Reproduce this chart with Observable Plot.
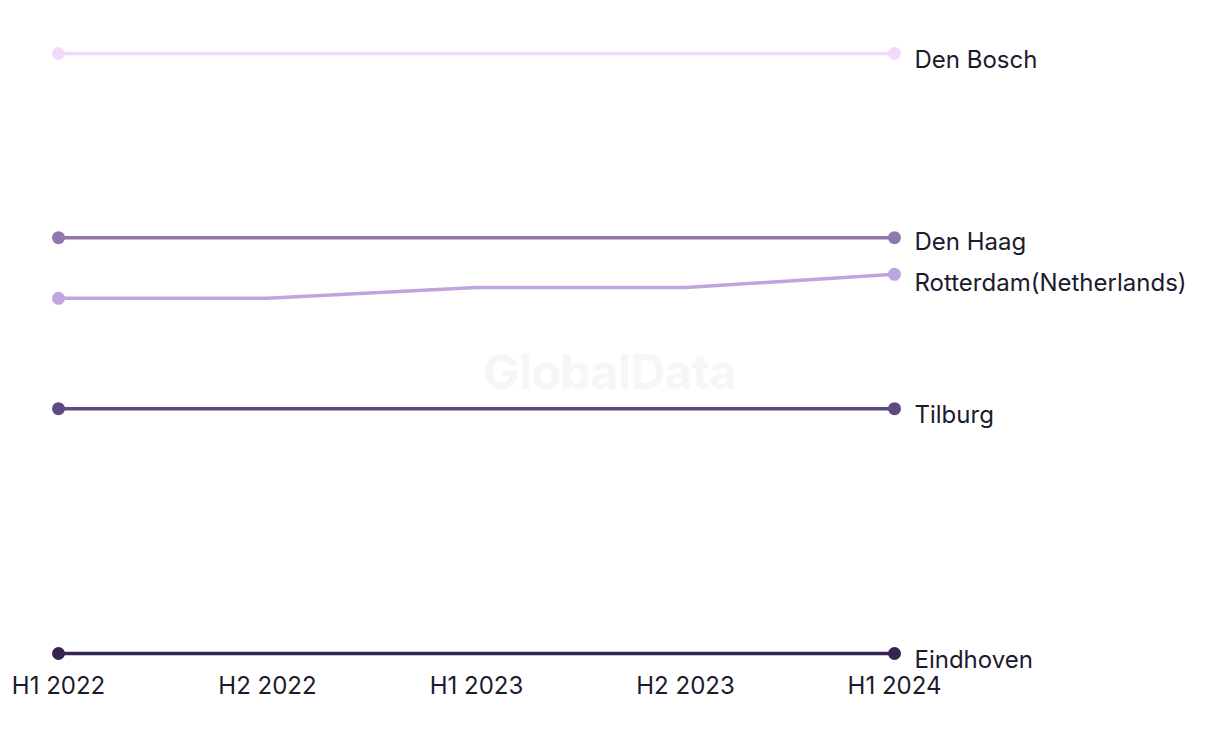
<!DOCTYPE html>
<html>
<head>
<meta charset="utf-8">
<script src="https://cdn.jsdelivr.net/npm/d3@7"></script>
<script src="https://cdn.jsdelivr.net/npm/@observablehq/plot@0.6"></script>
<style>
  html, body { margin: 0; padding: 0; background: #fff; }
  #wrap { position: relative; width: 1220px; height: 744px; font-family: Inter, "Noto Sans", sans-serif; }
  #wm { position: absolute; left: 0; width: 1220px; top: 342px; text-align: center; font-weight: 700; font-size: 48px; color: #f6f6f6; letter-spacing: -0.5px; pointer-events: none; }
  #chart { position: absolute; left: 0; top: 0; }
</style>
</head>
<body>
<div id="wrap">
  <div id="wm">GlobalData</div>
  <div id="chart"></div>
</div>
<script>
const periods = ["H1 2022", "H2 2022", "H1 2023", "H2 2023", "H1 2024"];
const cities = ["Den Bosch", "Den Haag", "Rotterdam(Netherlands)", "Tilburg", "Eindhoven"];
const denBosch = [100, 100, 100, 100, 100];
const denHaag = [69.3, 69.3, 69.3, 69.3, 69.3];
const rotterdam = [59.2, 59.2, 61.0, 61.0, 63.2];
const tilburg = [40.8, 40.8, 40.8, 40.8, 40.8];
const eindhoven = [0, 0, 0, 0, 0];
const colors = ["#f1d9fc", "#9277ae", "#bfa4e0", "#5e4a7f", "#35244f"];

const seriesValues = [denBosch, denHaag, rotterdam, tilburg, eindhoven];
const rows = [];
cities.forEach((c, i) => {
  periods.forEach((p, j) => rows.push({city: c, period: p, value: seriesValues[i][j], idx: j}));
});
const ends = rows.filter(d => d.idx === 0 || d.idx === periods.length - 1);
const last = rows.filter(d => d.idx === periods.length - 1);
const lastUp = last.filter(d => d.city === "Den Haag");
const lastDown = last.filter(d => d.city === "Rotterdam(Netherlands)");
const lastRest = last.filter(d => d.city !== "Den Haag" && d.city !== "Rotterdam(Netherlands)");

const txt = {x: "period", y: "value", text: "city", textAnchor: "start", dx: 20, fontSize: 24, fill: "#1b1b2d"};

const chart = Plot.plot({
  width: 1220,
  height: 744,
  marginLeft: 57,
  marginRight: 325,
  marginTop: 53,
  marginBottom: 91,
  style: {fontFamily: "Inter, 'Noto Sans', sans-serif", fontSize: "24px", color: "#1b1b2d", background: "transparent"},
  x: {type: "point", domain: periods, padding: 0, label: null},
  y: {domain: [0, 100], axis: null},
  color: {domain: cities, range: colors},
  marks: [
    Plot.axisX({tickSize: 0, tickPadding: 23, fontSize: 24, fill: "#1b1b2d", label: null}),
    Plot.line(rows, {x: "period", y: "value", z: "city", stroke: "city", strokeWidth: 3.5}),
    Plot.dot(ends, {x: "period", y: "value", fill: "city", r: 6.5}),
    Plot.text(lastRest, {...txt, dy: 7}),
    Plot.text(lastUp, {...txt, dy: 5}),
    Plot.text(lastDown, {...txt, dy: 9})
  ]
});
document.getElementById("chart").appendChild(chart);
</script>
</body>
</html>
